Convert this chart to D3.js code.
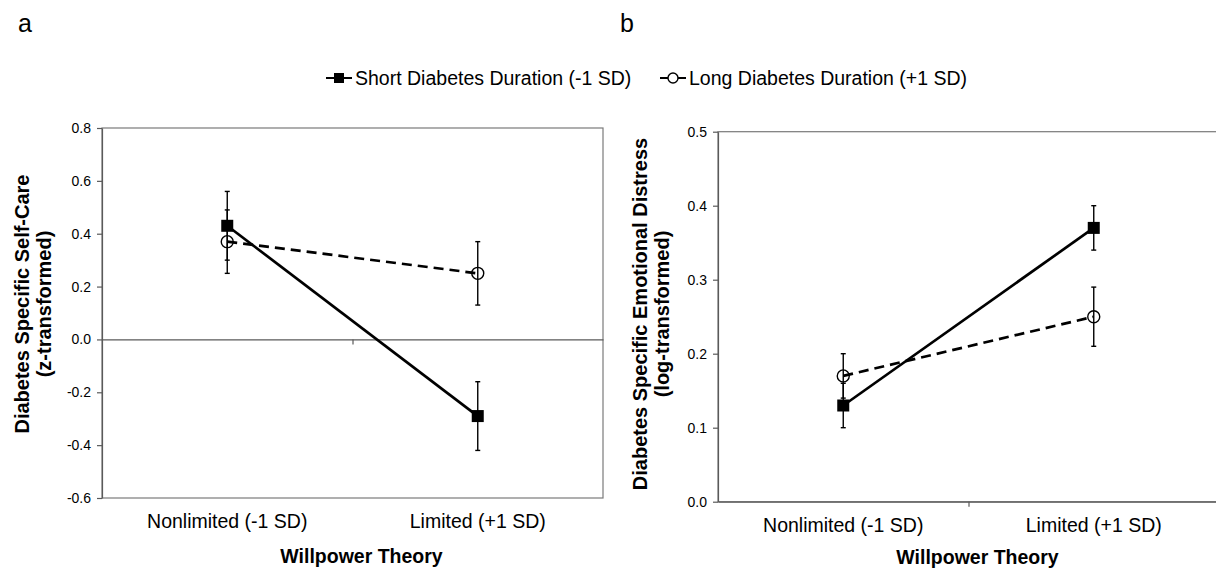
<!DOCTYPE html>
<html>
<head>
<meta charset="utf-8">
<script src="https://cdn.jsdelivr.net/npm/d3@7"></script>
<style>
  html, body { margin: 0; padding: 0; background: #fff; }
  svg { display: block; font-family: "Liberation Sans", Arial, sans-serif; }
</style>
</head>
<body>
<svg id="chart" width="1216" height="571"></svg>
<script>
// ---------- data ----------
const categories = ["Nonlimited (-1 SD)", "Limited (+1 SD)"];
const seriesNames = ["Short Diabetes Duration (-1 SD)", "Long Diabetes Duration (+1 SD)"];

const selfCareShort = [0.43, -0.29];
const selfCareShortErr = [0.13, 0.13];
const selfCareLong = [0.37, 0.25];
const selfCareLongErr = [0.12, 0.12];

const distressShort = [0.13, 0.37];
const distressShortErr = [0.03, 0.03];
const distressLong = [0.17, 0.25];
const distressLongErr = [0.03, 0.04];

const selfCareTicks = [-0.6, -0.4, -0.2, 0.0, 0.2, 0.4, 0.6, 0.8];
const distressTicks = [0.0, 0.1, 0.2, 0.3, 0.4, 0.5];

const xTitle = "Willpower Theory";

// ---------- layout ----------
const svg = d3.select("#chart");
const axisColor = "#5a5a5a";
const fmt = d => d.toFixed(1);

const panels = [
  {
    label: "a", labelX: 18, left: 102, top: 128, width: 501, bottom: 498,
    domain: [-0.6, 0.8], ticks: selfCareTicks, xAxisAt: 0,
    titleLines: ["Diabetes Specific Self-Care", "(z-transformed)"], titleCenterY: 304,
    titleX: [29, 51],
    catLabelY: 528, xTitleY: 563,
    short: selfCareShort, shortErr: selfCareShortErr,
    long: selfCareLong, longErr: selfCareLongErr
  },
  {
    label: "b", labelX: 620, left: 718, top: 131.7, width: 501, bottom: 501.7,
    domain: [0, 0.5], ticks: distressTicks, xAxisAt: 0,
    titleLines: ["Diabetes Specific Emotional Distress", "(log-transformed)"], titleCenterY: 314,
    titleX: [647, 669],
    catLabelY: 532, xTitleY: 564,
    short: distressShort, shortErr: distressShortErr,
    long: distressLong, longErr: distressLongErr
  }
];

panels.forEach(p => {
  const g = svg.append("g");
  const right = p.left + p.width;
  const y = d3.scaleLinear().domain(p.domain).range([p.bottom, p.top]);
  const x = d3.scalePoint().domain(categories).range([p.left, right]).padding(0.5);
  const xb = d3.scaleLinear().domain([0, categories.length]).range([p.left, right]);

  // panel label
  svg.append("text").attr("x", p.labelX).attr("y", 32)
    .attr("font-size", 25).attr("fill", "#000").text(p.label);

  // frame
  g.append("rect").attr("x", p.left).attr("y", p.top)
    .attr("width", p.width).attr("height", p.bottom - p.top)
    .attr("fill", "none").attr("stroke", "#7a7a7a").attr("stroke-width", 1.2);

  // y axis
  const yAxis = g.append("g").attr("transform", `translate(${p.left},0)`)
    .call(d3.axisLeft(y).tickValues(p.ticks).tickFormat(fmt).tickSize(5).tickPadding(6).tickSizeOuter(0));
  yAxis.selectAll("path, line").attr("stroke", axisColor).attr("stroke-width", 1.2);
  yAxis.selectAll("text").attr("font-size", 14).attr("fill", "#000")
    .attr("font-family", "'Liberation Sans', Arial, sans-serif");

  // x axis (domain line at value 0, tick at category boundary)
  const xAxis = g.append("g").attr("transform", `translate(0,${y(p.xAxisAt)})`)
    .call(d3.axisBottom(xb).tickValues([1]).tickFormat("").tickSize(5).tickSizeOuter(0));
  xAxis.selectAll("path, line").attr("stroke", axisColor).attr("stroke-width", 1.2);

  // category labels
  g.selectAll(".cat").data(categories).enter().append("text")
    .attr("x", d => x(d)).attr("y", p.catLabelY)
    .attr("text-anchor", "middle").attr("font-size", 19.5).attr("fill", "#000")
    .text(d => d);

  // x title
  g.append("text").attr("x", (p.left + right) / 2 + 9).attr("y", p.xTitleY)
    .attr("text-anchor", "middle").attr("font-size", 19.5).attr("font-weight", "bold")
    .attr("fill", "#000").text(xTitle);

  // y title
  p.titleLines.forEach((t, i) => {
    g.append("text")
      .attr("transform", `translate(${p.titleX[i]},${p.titleCenterY}) rotate(-90)`)
      .attr("text-anchor", "middle").attr("font-size", 20).attr("font-weight", "bold")
      .attr("fill", "#000").text(t);
  });

  const series = [
    { vals: p.short, errs: p.shortErr, dash: null, marker: "square" },
    { vals: p.long, errs: p.longErr, dash: "10,6", marker: "circle" }
  ];

  // error bars
  series.forEach(s => {
    const eg = g.append("g");
    s.vals.forEach((v, i) => {
      const cx = x(categories[i]);
      const y1 = y(v + s.errs[i]), y2 = y(v - s.errs[i]);
      eg.append("line").attr("x1", cx).attr("x2", cx).attr("y1", y1).attr("y2", y2)
        .attr("stroke", "#000").attr("stroke-width", 1.4);
      [y1, y2].forEach(yy => eg.append("line")
        .attr("x1", cx - 2.5).attr("x2", cx + 2.5).attr("y1", yy).attr("y2", yy)
        .attr("stroke", "#000").attr("stroke-width", 1.4));
    });
  });

  // lines
  const line = d3.line().x((d, i) => x(categories[i])).y(d => y(d));
  series.forEach(s => {
    g.append("path").datum(s.vals).attr("d", line)
      .attr("fill", "none").attr("stroke", "#000").attr("stroke-width", 2.7)
      .attr("stroke-dasharray", s.dash);
  });

  // markers
  series.forEach(s => {
    s.vals.forEach((v, i) => {
      const cx = x(categories[i]), cy = y(v);
      if (s.marker === "square") {
        g.append("rect").attr("x", cx - 6).attr("y", cy - 6).attr("width", 12).attr("height", 12)
          .attr("fill", "#000");
      } else {
        g.append("circle").attr("cx", cx).attr("cy", cy).attr("r", 6)
          .attr("fill", "none").attr("stroke", "#000").attr("stroke-width", 1.4);
      }
    });
  });
});

// ---------- legend ----------
const legend = svg.append("g");
const legendY = 78;
const legendItems = [
  { name: seriesNames[0], x: 326, marker: "square" },
  { name: seriesNames[1], x: 660, marker: "circle" }
];
legendItems.forEach(it => {
  legend.append("line").attr("x1", it.x).attr("x2", it.x + 26)
    .attr("y1", legendY).attr("y2", legendY).attr("stroke", "#000").attr("stroke-width", 2);
  if (it.marker === "square") {
    legend.append("rect").attr("x", it.x + 8).attr("y", legendY - 5).attr("width", 10).attr("height", 10).attr("fill", "#000");
  } else {
    legend.append("circle").attr("cx", it.x + 13).attr("cy", legendY).attr("r", 5)
      .attr("fill", "#fff").attr("stroke", "#000").attr("stroke-width", 1.4);
  }
  legend.append("text").attr("x", it.x + 29).attr("y", legendY + 7)
    .attr("font-size", 19.5).attr("fill", "#000").text(it.name);
});
</script>
</body>
</html>
